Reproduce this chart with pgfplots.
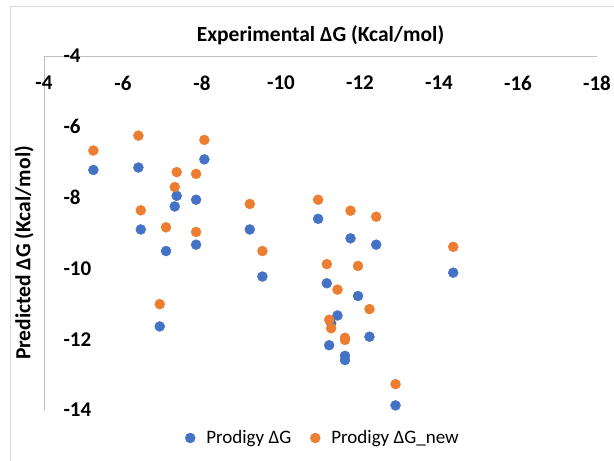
\documentclass[border=0pt]{standalone}
\usepackage{pgfplots}
\pgfplotsset{compat=1.18}
\usepackage{fontspec}
\setmainfont{Carlito}
\definecolor{exblue}{HTML}{4472C4}
\definecolor{exorange}{HTML}{ED7D31}
\definecolor{exgrid}{HTML}{BFBFBF}
\definecolor{exframe}{HTML}{D9D9D9}
% legend dot pushed a bit towards its text
\pgfplotsset{dotleg/.style={legend image code/.code={%
    \path[draw=none, fill=none] (-5pt,-5pt) rectangle (5pt,5pt);
    \draw[##1, overlay] plot coordinates {(4pt,0pt)};}}}
\begin{document}
\begin{tikzpicture}[x=1pt,y=1pt]
\useasboundingbox (-44,-51) rectangle (570,410);
\draw[exframe, line width=0.8pt] (-34,-51) -- (-34,404) -- (570,404);
\begin{axis}[
    at={(0,0)}, anchor=south west,
    scale only axis,
    width=553pt, height=354pt,
    x dir=reverse,
    xmin=-18, xmax=-4,
    ymin=-14, ymax=-4,
    xtick={-4,-6,...,-18},
    ytick={-4,-6,...,-14},
    axis x line*=top,
    axis y line*=left,
    axis line style={exgrid, line width=0.8pt, -},
    major tick length=0pt,
    /pgf/number format/assume math mode=true,
    ticklabel style={font=\bfseries\fontsize{21}{23}\selectfont},
    xticklabel style={anchor=center, yshift=-27pt},
    yticklabel style={anchor=west, xshift=16pt},
    title={Experimental ΔG (Kcal/mol)},
    title style={font=\bfseries\fontsize{21.5}{24}\selectfont, at={(0.5,1)}, anchor=center, yshift=15pt},
    ylabel={Predicted ΔG (Kcal/mol)},
    ylabel style={font=\bfseries\fontsize{21.5}{24}\selectfont, at={(0,0.5)}, anchor=center, xshift=-20pt, yshift=20pt},
    legend style={at={(0.5,0)}, anchor=center, yshift=-28pt, draw=none,
        font=\fontsize{19}{21}\selectfont, column sep=14pt,
        nodes={inner xsep=1pt}},
    legend columns=2,
    legend cell align=left,
    clip=false,
]
\addplot[only marks, dotleg, mark=*, mark size=5pt, exblue, mark options={draw=exblue, fill=exblue}]
    coordinates {
    (-5.25,-7.22)(-6.39,-7.15)(-8.06,-6.92)(-7.36,-7.95)(-7.85,-8.06)
    (-7.31,-8.25)(-6.45,-8.90)(-7.09,-9.51)(-7.85,-9.33)(-9.21,-8.90)
    (-9.53,-10.23)(-6.93,-11.64)
    (-10.94,-8.60)(-11.76,-9.15)(-12.41,-9.33)(-14.36,-10.12)(-11.16,-10.42)
    (-11.95,-10.78)(-11.43,-11.33)(-12.24,-11.93)(-11.22,-12.17)(-11.27,-11.55)
    (-11.62,-12.47)(-11.62,-12.59)(-12.90,-13.87)};
\addplot[only marks, dotleg, mark=*, mark size=5pt, exorange, mark options={draw=exorange, fill=exorange}]
    coordinates {
    (-5.25,-6.67)(-6.39,-6.25)(-8.06,-6.37)(-7.36,-7.28)(-7.85,-7.33)
    (-7.31,-7.70)(-6.45,-8.36)(-7.09,-8.84)(-7.85,-8.97)(-9.21,-8.18)
    (-9.53,-9.51)(-6.93,-11.01)
    (-10.94,-8.06)(-11.76,-8.37)(-12.41,-8.54)(-14.36,-9.39)(-11.16,-9.88)
    (-11.95,-9.93)(-11.43,-10.60)(-12.24,-11.15)(-11.22,-11.45)(-11.27,-11.69)
    (-11.62,-11.96)(-11.62,-12.02)(-12.90,-13.27)};
\legend{Prodigy ΔG,Prodigy ΔG\_new}
\end{axis}
\end{tikzpicture}
\end{document}
